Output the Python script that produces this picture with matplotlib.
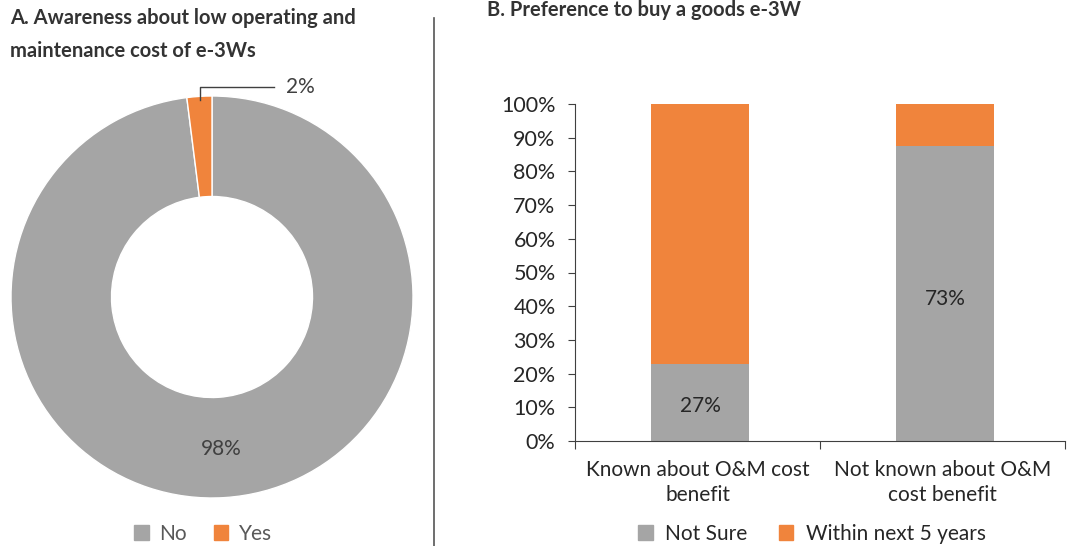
import numpy as np
import matplotlib
matplotlib.use("Agg")
import matplotlib.pyplot as plt
from matplotlib.patches import Patch

plt.rcParams['font.family'] = ['Lato', 'DejaVu Sans']

## data for the donut (panel A)
aware_labels = ["No", "Yes"]
aware_values = [98, 2]

## data for the stacked bars (panel B)
groups = ["Known about O&M cost\nbenefit", "Not known about O&M\ncost benefit"]
not_sure = [22.8, 87.5]
within_5y = [77.2, 12.5]
bar_labels = ["27%", "73%"]
yticks = [0, 10, 20, 30, 40, 50, 60, 70, 80, 90, 100]

GRAY = "#a5a5a5"
ORANGE = "#f0843c"
TXT = "#262626"

fig = plt.figure(figsize=(10.67, 5.46), dpi=100)

# titles
fig.text(10 / 1067, 1 - 18 / 546, "A. Awareness about low operating and", fontsize=14.5,
         fontweight="bold", color="#333333", va="center", ha="left")
fig.text(10 / 1067, 1 - 51 / 546, "maintenance cost of e-3Ws", fontsize=14.5,
         fontweight="bold", color="#333333", va="center", ha="left")
fig.text(487 / 1067, 1 - 10 / 546, "B. Preference to buy a goods e-3W", fontsize=14.5,
         fontweight="bold", color="#333333", va="center", ha="left")

# divider
fig.add_artist(plt.Line2D([434 / 1067, 434 / 1067], [0, 1 - 18 / 546], color="#555555", lw=1.2))

## donut
ax1 = fig.add_axes([11 / 1067, 48 / 546, 402 / 1067, 402 / 546])
wedges, _ = ax1.pie(aware_values, colors=[GRAY, ORANGE], startangle=90, counterclock=False,
                    radius=1, wedgeprops=dict(width=0.5, edgecolor="white", linewidth=1))
ax1.set_xlim(-1, 1)
ax1.set_ylim(-1, 1)
ax1.set_aspect("equal")
ax1.axis("off")

# 98% label inside the ring
ang = np.deg2rad(-86.5)
ax1.text(0.76 * np.cos(ang), 0.76 * np.sin(ang), "98%", fontsize=15, color="#404040",
         ha="center", va="center")
# 2% callout
w = wedges[1]
mid = np.deg2rad((w.theta1 + w.theta2) / 2)
x0, y0 = 0.98 * np.cos(mid), 0.98 * np.sin(mid)
ax1.plot([x0, x0, 0.31], [y0, 1.045, 1.045], color="#404040", lw=1, clip_on=False)
ax1.text(0.37, 1.045, "2%", fontsize=15, color="#404040", ha="left", va="center")

fig.legend(handles=[Patch(color=GRAY, label="No"), Patch(color=ORANGE, label="Yes")],
           loc="center", bbox_to_anchor=(203 / 1067, 1 - 534 / 546), ncol=2, frameon=False,
           fontsize=15, handlelength=0.7, handleheight=0.7, handletextpad=0.5,
           columnspacing=1.3, labelcolor="#595959")

## stacked bars
ax2 = fig.add_axes([575 / 1067, 105 / 546, 490 / 1067, 337 / 546])
x = np.arange(len(groups)) + 0.01
ax2.bar(x, not_sure, width=0.4, color=GRAY, label="Not Sure")
ax2.bar(x, within_5y, width=0.4, bottom=not_sure, color=ORANGE, label="Within next 5 years")
label_y = [not_sure[0] - 12.3, not_sure[1] - 45.5]
for i in range(len(groups)):
    ax2.text(x[i], label_y[i], bar_labels[i], fontsize=15, color=TXT, ha="center", va="center")

ax2.set_xlim(-0.5, 1.5)
ax2.set_ylim(0, 100)
ax2.set_yticks(yticks)
ax2.set_yticklabels([f"{t}%" for t in yticks], fontsize=15.5, color=TXT)
ax2.set_xticks([-0.5, 0.5, 1.5])
ax2.set_xticklabels([])
ax2.set_xticks(np.arange(len(groups)), minor=True)
ax2.set_xticklabels(groups, minor=True, fontsize=15, color=TXT, linespacing=1.3)
ax2.tick_params(axis="x", which="minor", length=0, pad=14)
ax2.tick_params(axis="x", which="major", length=6, color="#404040")
ax2.tick_params(axis="y", length=5, color="#404040", pad=9)
for s in ["top", "right"]:
    ax2.spines[s].set_visible(False)
for s in ["left", "bottom"]:
    ax2.spines[s].set_color("#404040")

fig.legend(handles=[Patch(color=GRAY, label="Not Sure"), Patch(color=ORANGE, label="Within next 5 years")],
           loc="center", bbox_to_anchor=(812 / 1067, 1 - 534 / 546), ncol=2, frameon=False,
           fontsize=15, handlelength=0.7, handleheight=0.7, handletextpad=0.6,
           columnspacing=1.5, labelcolor=TXT)

fig.savefig("out.png", dpi=100)
